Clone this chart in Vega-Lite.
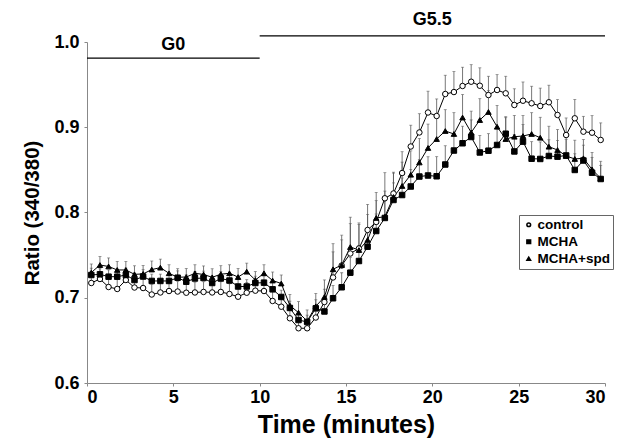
{
  "$schema": "https://vega.github.io/schema/vega-lite/v6.json",
  "width": 518,
  "height": 341,
  "autosize": {"type": "none"},
  "padding": {"left": 87, "top": 42, "right": 12, "bottom": 57},
  "background": "white",
  "config": {
    "view": {"stroke": null},
    "font": "Liberation Sans",
    "axis": {"grid": false, "domainColor": "#888888", "tickColor": "#888888", "labelFont": "Liberation Sans", "labelFontWeight": "bold", "labelColor": "black", "titleFont": "Liberation Sans", "titleFontWeight": "bold", "titleColor": "black"}
  },
  "datasets": {
    "d": [
      {"t":0.25,"s":"control","v":0.7173,"hi":0.7293},{"t":0.75,"s":"control","v":0.7220,"hi":0.7340},{"t":1.25,"s":"control","v":0.7126,"hi":0.7246},{"t":1.75,"s":"control","v":0.7103,"hi":0.7223},{"t":2.25,"s":"control","v":0.7208,"hi":0.7328},{"t":2.75,"s":"control","v":0.7120,"hi":0.7240},{"t":3.25,"s":"control","v":0.7114,"hi":0.7234},{"t":3.75,"s":"control","v":0.7038,"hi":0.7158},{"t":4.25,"s":"control","v":0.7062,"hi":0.7182},{"t":4.75,"s":"control","v":0.7079,"hi":0.7199},{"t":5.25,"s":"control","v":0.7073,"hi":0.7193},{"t":5.75,"s":"control","v":0.7059,"hi":0.7179},{"t":6.25,"s":"control","v":0.7062,"hi":0.7182},{"t":6.75,"s":"control","v":0.7068,"hi":0.7188},{"t":7.25,"s":"control","v":0.7062,"hi":0.7182},{"t":7.75,"s":"control","v":0.7068,"hi":0.7188},{"t":8.25,"s":"control","v":0.7044,"hi":0.7164},{"t":8.75,"s":"control","v":0.7012,"hi":0.7132},{"t":9.25,"s":"control","v":0.7059,"hi":0.7179},{"t":9.75,"s":"control","v":0.7083,"hi":0.7203},{"t":10.25,"s":"control","v":0.7079,"hi":0.7199},{"t":10.75,"s":"control","v":0.6962,"hi":0.7082},{"t":11.25,"s":"control","v":0.6895,"hi":0.7015},{"t":11.75,"s":"control","v":0.6759,"hi":0.6879},{"t":12.25,"s":"control","v":0.6642,"hi":0.6742},{"t":12.75,"s":"control","v":0.6642,"hi":0.6742},{"t":13.25,"s":"control","v":0.6768,"hi":0.6888},{"t":13.75,"s":"control","v":0.6950,"hi":0.7100},{"t":14.25,"s":"control","v":0.7238,"hi":0.7538},{"t":14.75,"s":"control","v":0.7378,"hi":0.7678},{"t":15.25,"s":"control","v":0.7519,"hi":0.7869},{"t":15.75,"s":"control","v":0.7578,"hi":0.7878},{"t":16.25,"s":"control","v":0.7795,"hi":0.8095},{"t":16.75,"s":"control","v":0.7889,"hi":0.8139},{"t":17.25,"s":"control","v":0.8167,"hi":0.8467},{"t":17.75,"s":"control","v":0.8223,"hi":0.8473},{"t":18.25,"s":"control","v":0.8463,"hi":0.8713},{"t":18.75,"s":"control","v":0.8774,"hi":0.9024},{"t":19.25,"s":"control","v":0.8939,"hi":0.9159},{"t":19.75,"s":"control","v":0.9173,"hi":0.9423},{"t":20.25,"s":"control","v":0.9132,"hi":0.9332},{"t":20.75,"s":"control","v":0.9390,"hi":0.9610},{"t":21.25,"s":"control","v":0.9413,"hi":0.9653},{"t":21.75,"s":"control","v":0.9484,"hi":0.9704},{"t":22.25,"s":"control","v":0.9534,"hi":0.9734},{"t":22.75,"s":"control","v":0.9487,"hi":0.9697},{"t":23.25,"s":"control","v":0.9378,"hi":0.9598},{"t":23.75,"s":"control","v":0.9437,"hi":0.9617},{"t":24.25,"s":"control","v":0.9398,"hi":0.9598},{"t":24.75,"s":"control","v":0.9261,"hi":0.9451},{"t":25.25,"s":"control","v":0.9311,"hi":0.9531},{"t":25.75,"s":"control","v":0.9281,"hi":0.9481},{"t":26.25,"s":"control","v":0.9249,"hi":0.9459},{"t":26.75,"s":"control","v":0.9293,"hi":0.9493},{"t":27.25,"s":"control","v":0.9144,"hi":0.9324},{"t":27.75,"s":"control","v":0.8909,"hi":0.9109},{"t":28.25,"s":"control","v":0.9105,"hi":0.9325},{"t":28.75,"s":"control","v":0.8948,"hi":0.9128},{"t":29.25,"s":"control","v":0.8936,"hi":0.9136},{"t":29.75,"s":"control","v":0.8851,"hi":0.9051},
      {"t":0.25,"s":"MCHA","v":0.7267,"hi":0.7347},{"t":0.75,"s":"MCHA","v":0.7275,"hi":0.7355},{"t":1.25,"s":"MCHA","v":0.7247,"hi":0.7327},{"t":1.75,"s":"MCHA","v":0.7247,"hi":0.7327},{"t":2.25,"s":"MCHA","v":0.7267,"hi":0.7347},{"t":2.75,"s":"MCHA","v":0.7208,"hi":0.7288},{"t":3.25,"s":"MCHA","v":0.7249,"hi":0.7329},{"t":3.75,"s":"MCHA","v":0.7197,"hi":0.7277},{"t":4.25,"s":"MCHA","v":0.7197,"hi":0.7277},{"t":4.75,"s":"MCHA","v":0.7197,"hi":0.7277},{"t":5.25,"s":"MCHA","v":0.7235,"hi":0.7315},{"t":5.75,"s":"MCHA","v":0.7188,"hi":0.7268},{"t":6.25,"s":"MCHA","v":0.7226,"hi":0.7306},{"t":6.75,"s":"MCHA","v":0.7232,"hi":0.7312},{"t":7.25,"s":"MCHA","v":0.7173,"hi":0.7253},{"t":7.75,"s":"MCHA","v":0.7226,"hi":0.7306},{"t":8.25,"s":"MCHA","v":0.7202,"hi":0.7282},{"t":8.75,"s":"MCHA","v":0.7132,"hi":0.7212},{"t":9.25,"s":"MCHA","v":0.7132,"hi":0.7212},{"t":9.75,"s":"MCHA","v":0.7173,"hi":0.7253},{"t":10.25,"s":"MCHA","v":0.7177,"hi":0.7257},{"t":10.75,"s":"MCHA","v":0.7099,"hi":0.7179},{"t":11.25,"s":"MCHA","v":0.7009,"hi":0.7089},{"t":11.75,"s":"MCHA","v":0.6880,"hi":0.6960},{"t":12.25,"s":"MCHA","v":0.6739,"hi":0.6819},{"t":12.75,"s":"MCHA","v":0.6716,"hi":0.6796},{"t":13.25,"s":"MCHA","v":0.6876,"hi":0.6976},{"t":13.75,"s":"MCHA","v":0.6839,"hi":0.6959},{"t":14.25,"s":"MCHA","v":0.6994,"hi":0.7144},{"t":14.75,"s":"MCHA","v":0.7123,"hi":0.7293},{"t":15.25,"s":"MCHA","v":0.7294,"hi":0.7474},{"t":15.75,"s":"MCHA","v":0.7431,"hi":0.7611},{"t":16.25,"s":"MCHA","v":0.7599,"hi":0.7799},{"t":16.75,"s":"MCHA","v":0.7783,"hi":0.7983},{"t":17.25,"s":"MCHA","v":0.7936,"hi":0.8136},{"t":17.75,"s":"MCHA","v":0.8147,"hi":0.8347},{"t":18.25,"s":"MCHA","v":0.8205,"hi":0.8405},{"t":18.75,"s":"MCHA","v":0.8305,"hi":0.8505},{"t":19.25,"s":"MCHA","v":0.8422,"hi":0.8622},{"t":19.75,"s":"MCHA","v":0.8434,"hi":0.8654},{"t":20.25,"s":"MCHA","v":0.8425,"hi":0.8655},{"t":20.75,"s":"MCHA","v":0.8563,"hi":0.8783},{"t":21.25,"s":"MCHA","v":0.8727,"hi":0.8927},{"t":21.75,"s":"MCHA","v":0.8812,"hi":0.9012},{"t":22.25,"s":"MCHA","v":0.8886,"hi":0.9086},{"t":22.75,"s":"MCHA","v":0.8704,"hi":0.8904},{"t":23.25,"s":"MCHA","v":0.8725,"hi":0.8925},{"t":23.75,"s":"MCHA","v":0.8792,"hi":0.8992},{"t":24.25,"s":"MCHA","v":0.8924,"hi":0.9124},{"t":24.75,"s":"MCHA","v":0.8716,"hi":0.8916},{"t":25.25,"s":"MCHA","v":0.8831,"hi":0.9031},{"t":25.75,"s":"MCHA","v":0.8631,"hi":0.8831},{"t":26.25,"s":"MCHA","v":0.8628,"hi":0.8828},{"t":26.75,"s":"MCHA","v":0.8663,"hi":0.8853},{"t":27.25,"s":"MCHA","v":0.8655,"hi":0.8845},{"t":27.75,"s":"MCHA","v":0.8669,"hi":0.8859},{"t":28.25,"s":"MCHA","v":0.8499,"hi":0.8689},{"t":28.75,"s":"MCHA","v":0.8610,"hi":0.8790},{"t":29.25,"s":"MCHA","v":0.8467,"hi":0.8647},{"t":29.75,"s":"MCHA","v":0.8393,"hi":0.8553},
      {"t":0.25,"s":"MCHA+spd","v":0.7296,"hi":0.7396},{"t":0.75,"s":"MCHA+spd","v":0.7384,"hi":0.7484},{"t":1.25,"s":"MCHA+spd","v":0.7367,"hi":0.7467},{"t":1.75,"s":"MCHA+spd","v":0.7326,"hi":0.7426},{"t":2.25,"s":"MCHA+spd","v":0.7326,"hi":0.7426},{"t":2.75,"s":"MCHA+spd","v":0.7275,"hi":0.7375},{"t":3.25,"s":"MCHA+spd","v":0.7279,"hi":0.7379},{"t":3.75,"s":"MCHA+spd","v":0.7331,"hi":0.7431},{"t":4.25,"s":"MCHA+spd","v":0.7353,"hi":0.7453},{"t":4.75,"s":"MCHA+spd","v":0.7287,"hi":0.7387},{"t":5.25,"s":"MCHA+spd","v":0.7241,"hi":0.7341},{"t":5.75,"s":"MCHA+spd","v":0.7243,"hi":0.7343},{"t":6.25,"s":"MCHA+spd","v":0.7287,"hi":0.7387},{"t":6.75,"s":"MCHA+spd","v":0.7273,"hi":0.7373},{"t":7.25,"s":"MCHA+spd","v":0.7240,"hi":0.7340},{"t":7.75,"s":"MCHA+spd","v":0.7276,"hi":0.7376},{"t":8.25,"s":"MCHA+spd","v":0.7287,"hi":0.7387},{"t":8.75,"s":"MCHA+spd","v":0.7243,"hi":0.7343},{"t":9.25,"s":"MCHA+spd","v":0.7306,"hi":0.7406},{"t":9.75,"s":"MCHA+spd","v":0.7208,"hi":0.7308},{"t":10.25,"s":"MCHA+spd","v":0.7287,"hi":0.7387},{"t":10.75,"s":"MCHA+spd","v":0.7202,"hi":0.7302},{"t":11.25,"s":"MCHA+spd","v":0.7167,"hi":0.7267},{"t":11.75,"s":"MCHA+spd","v":0.6909,"hi":0.7039},{"t":12.25,"s":"MCHA+spd","v":0.6825,"hi":0.6955},{"t":12.75,"s":"MCHA+spd","v":0.6727,"hi":0.6857},{"t":13.25,"s":"MCHA+spd","v":0.6900,"hi":0.7050},{"t":13.75,"s":"MCHA+spd","v":0.7009,"hi":0.7209},{"t":14.25,"s":"MCHA+spd","v":0.7334,"hi":0.7634},{"t":14.75,"s":"MCHA+spd","v":0.7384,"hi":0.7734},{"t":15.25,"s":"MCHA+spd","v":0.7595,"hi":0.7945},{"t":15.75,"s":"MCHA+spd","v":0.7560,"hi":0.7860},{"t":16.25,"s":"MCHA+spd","v":0.7678,"hi":0.7978},{"t":16.75,"s":"MCHA+spd","v":0.7936,"hi":0.8236},{"t":17.25,"s":"MCHA+spd","v":0.7951,"hi":0.8251},{"t":17.75,"s":"MCHA+spd","v":0.8182,"hi":0.8462},{"t":18.25,"s":"MCHA+spd","v":0.8311,"hi":0.8591},{"t":18.75,"s":"MCHA+spd","v":0.8443,"hi":0.8723},{"t":19.25,"s":"MCHA+spd","v":0.8587,"hi":0.8867},{"t":19.75,"s":"MCHA+spd","v":0.8757,"hi":0.9037},{"t":20.25,"s":"MCHA+spd","v":0.8862,"hi":0.9122},{"t":20.75,"s":"MCHA+spd","v":0.8956,"hi":0.9206},{"t":21.25,"s":"MCHA+spd","v":0.8921,"hi":0.9171},{"t":21.75,"s":"MCHA+spd","v":0.9114,"hi":0.9384},{"t":22.25,"s":"MCHA+spd","v":0.8939,"hi":0.9189},{"t":22.75,"s":"MCHA+spd","v":0.9085,"hi":0.9335},{"t":23.25,"s":"MCHA+spd","v":0.9179,"hi":0.9429},{"t":23.75,"s":"MCHA+spd","v":0.9006,"hi":0.9256},{"t":24.25,"s":"MCHA+spd","v":0.8862,"hi":0.9112},{"t":24.75,"s":"MCHA+spd","v":0.8889,"hi":0.9139},{"t":25.25,"s":"MCHA+spd","v":0.8897,"hi":0.9137},{"t":25.75,"s":"MCHA+spd","v":0.8921,"hi":0.9171},{"t":26.25,"s":"MCHA+spd","v":0.8877,"hi":0.9117},{"t":26.75,"s":"MCHA+spd","v":0.8772,"hi":0.9012},{"t":27.25,"s":"MCHA+spd","v":0.8733,"hi":0.8973},{"t":27.75,"s":"MCHA+spd","v":0.8663,"hi":0.8883},{"t":28.25,"s":"MCHA+spd","v":0.8628,"hi":0.8848},{"t":28.75,"s":"MCHA+spd","v":0.8636,"hi":0.8856},{"t":29.25,"s":"MCHA+spd","v":0.8505,"hi":0.8705},{"t":29.75,"s":"MCHA+spd","v":0.8401,"hi":0.8601}
    ],
    "ann": [
      {"x": 0, "x2": 10, "y": 0.981, "ty": 0.996, "label": "G0"},
      {"x": 10, "x2": 30, "y": 1.0071, "ty": 1.026, "label": "G5.5"}
    ]
  },
  "layer": [
    {
      "data": {"name": "d"},
      "mark": {"type": "rule", "color": "#555555", "strokeWidth": 0.8},
      "encoding": {
        "x": {"field": "t", "type": "quantitative", "scale": {"domain": [0, 30], "nice": false, "zero": false},
              "axis": {"values": [0, 5, 10, 15, 20, 25, 30], "labelFontSize": 18, "tickSize": 3, "labelPadding": 2, "title": "Time (minutes)", "titleFontSize": 25, "titlePadding": 6}},
        "y": {"field": "v", "type": "quantitative", "scale": {"domain": [0.6, 1.0], "nice": false, "zero": false},
              "axis": {"values": [0.6, 0.7, 0.8, 0.9, 1.0], "format": ".1f", "labelFontSize": 18, "tickSize": 3, "labelPadding": 5, "title": "Ratio (340/380)", "titleFontSize": 20.5, "titlePadding": 11}},
        "y2": {"field": "hi"}
      }
    },
    {
      "data": {"name": "d"},
      "mark": {"type": "tick", "orient": "horizontal", "color": "#555555", "thickness": 0.8, "size": 3},
      "encoding": {
        "x": {"field": "t", "type": "quantitative"},
        "y": {"field": "hi", "type": "quantitative"}
      }
    },
    {
      "data": {"name": "d"},
      "mark": {"type": "line", "color": "black", "strokeWidth": 1},
      "encoding": {
        "x": {"field": "t", "type": "quantitative"},
        "y": {"field": "v", "type": "quantitative"},
        "detail": {"field": "s"}
      }
    },
    {
      "data": {"name": "d"},
      "mark": {"type": "point", "stroke": "black", "strokeWidth": 1, "opacity": 1, "size": 30},
      "encoding": {
        "x": {"field": "t", "type": "quantitative"},
        "y": {"field": "v", "type": "quantitative"},
        "shape": {"field": "s", "type": "nominal", "title": null,
                  "scale": {"domain": ["control", "MCHA", "MCHA+spd"], "range": ["circle", "square", "triangle-up"]},
                  "legend": {"orient": "none", "legendX": 432, "legendY": 173, "strokeColor": "#666666", "padding": 3, "labelFontSize": 13.5, "labelFont": "Liberation Sans", "labelFontWeight": "bold", "labelColor": "black", "symbolSize": 14, "rowPadding": 2, "labelOffset": 2, "fillColor": "white",
                             "encode": {"symbols": {"update": {"stroke": {"value": "black"}, "strokeWidth": {"value": 1}}}}}},
        "fill": {"field": "s", "type": "nominal", "title": null,
                 "scale": {"domain": ["control", "MCHA", "MCHA+spd"], "range": ["white", "black", "black"]}}
      }
    },
    {
      "data": {"name": "ann"},
      "mark": {"type": "rule", "color": "black", "strokeWidth": 1.2},
      "encoding": {
        "x": {"field": "x", "type": "quantitative"},
        "x2": {"field": "x2"},
        "y": {"field": "y", "type": "quantitative"}
      }
    },
    {
      "data": {"name": "ann"},
      "transform": [{"calculate": "(datum.x + datum.x2) / 2", "as": "xm"}],
      "mark": {"type": "text", "font": "Liberation Sans", "fontWeight": "bold", "fontSize": 18, "baseline": "middle", "align": "center", "color": "black"},
      "encoding": {
        "x": {"field": "xm", "type": "quantitative"},
        "y": {"field": "ty", "type": "quantitative"},
        "text": {"field": "label"}
      }
    }
  ]
}
